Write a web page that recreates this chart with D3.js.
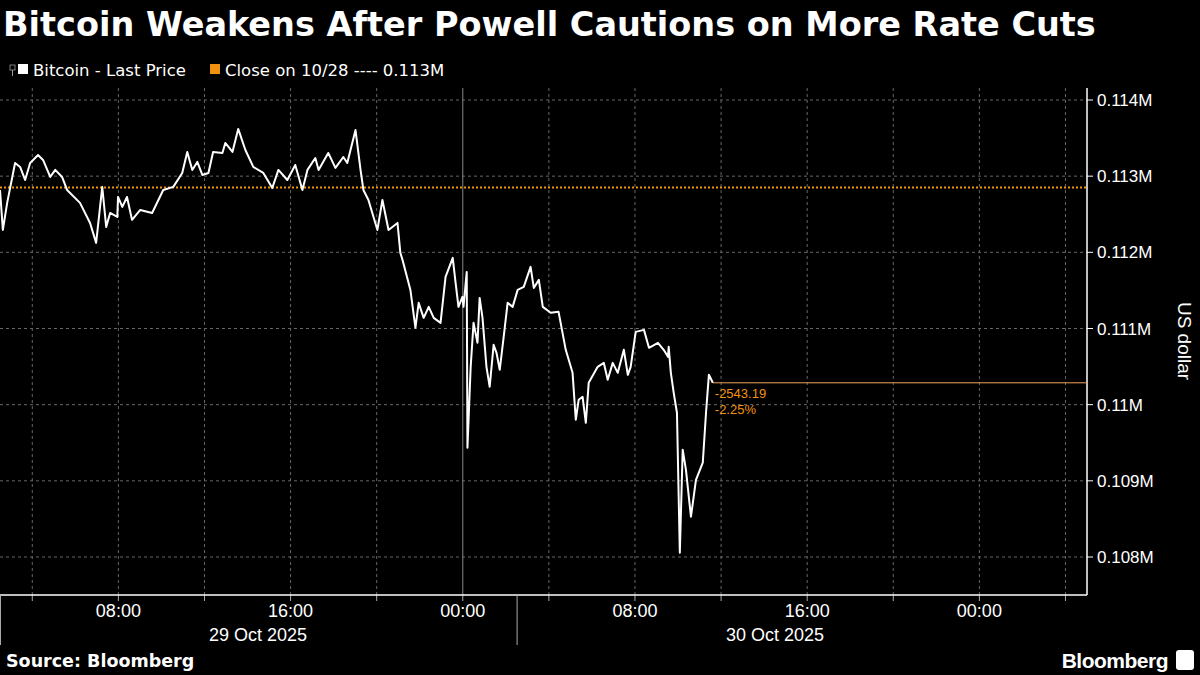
<!DOCTYPE html>
<html><head><meta charset="utf-8">
<script src="https://cdn.jsdelivr.net/npm/d3@7"></script>
<style>body{margin:0;background:#000}svg{display:block}</style>
</head><body>
<svg id="c" width="1200" height="675"></svg>
<script>
// minutes since 2025-10-29 02:30 (local chart time)
const minutes = [0,8,20,42,56,70,84,106,120,140,154,173,187,223,251,268,285,296,307,327,329,341,354,368,391,424,455,483,508,522,536,550,564,581,594,620,628,648,664,684,706,734,759,776,801,823,843,857,879,888,915,935,957,968,991,1005,1013,1027,1052,1066,1083,1108,1116,1122,1144,1158,1167,1181,1195,1209,1228,1242,1262,1270,1278,1289,1292,1301,1303,1312,1320,1331,1337,1345,1356,1365,1376,1384,1393,1404,1415,1429,1443,1460,1479,1488,1502,1513,1535,1557,1577,1596,1605,1613,1624,1633,1641,1666,1683,1694,1708,1722,1739,1750,1758,1772,1795,1809,1834,1850,1862,1864,1870,1878,1887,1895,1903,1912,1926,1940,1959,1968,1976,1987];
const prices = [112819,112294,112649,113173,113121,112950,113173,113278,113213,112990,113082,112990,112819,112649,112386,112124,112859,112334,112517,112465,112727,112596,112727,112426,112557,112517,112819,112859,113042,113318,113082,113187,113016,113042,113318,113305,113436,113318,113620,113344,113121,113042,112845,113082,112950,113147,112819,113082,113239,113082,113305,113108,113252,113173,113606,113082,112819,112688,112294,112688,112294,112386,111993,111901,111507,111009,111337,111140,111284,111140,111074,111678,111927,111599,111284,111415,111284,111743,109434,110497,111074,110812,111402,111140,110497,110235,110786,110681,110458,110891,111337,111284,111507,111547,111809,111533,111638,111284,111206,111219,110720,110418,109802,110064,110103,109762,110287,110497,110549,110326,110549,110418,110720,110392,110497,110956,110982,110746,110812,110720,110628,110759,110418,110156,109894,108057,109408,109146,108529,109014,109238,109894,110392,110287];
const closePrice = 112850;
const lastPrice = 110287;
const yTicks = [108000,109000,110000,111000,112000,113000,114000];
const yTickLabels = ["0.108M","0.109M","0.11M","0.111M","0.112M","0.113M","0.114M"];
const xTickLabels = ["08:00","16:00","00:00","08:00","16:00","00:00"];
const dateLabels = ["29 Oct 2025","30 Oct 2025"];
const changeLabels = ["-2543.19","-2.25%"];

const svg = d3.select("#c");
svg.append("rect").attr("width",1200).attr("height",675).attr("fill","#000");
const F = "'Liberation Sans', Arial, sans-serif";
const D = "'DejaVu Sans', sans-serif";
const start = new Date(2025,9,29,2,30);
const data = minutes.map((m,i)=>({t:new Date(start.getTime()+m*60000), v:prices[i]}));
const x = d3.scaleTime().domain([start, new Date(2025,9,31,5,0)]).range([0,1087]);
const y = d3.scaleLinear().domain([108000,114000]).range([557,100]);
const pTop=88, pBottom=595, pRight=1087;

const g = svg.append("g");
yTicks.forEach(v=>g.append("line").attr("x1",0).attr("x2",pRight).attr("y1",y(v)).attr("y2",y(v))
  .attr("stroke","#666").attr("stroke-dasharray","3,3"));
const ticks4 = d3.timeHour.every(4).range(new Date(2025,9,29,4), new Date(2025,9,31,5));
ticks4.forEach(t=>{
  const isMid = t.getHours()===0 && t.getDate()===30;
  g.append("line").attr("x1",x(t)).attr("x2",x(t)).attr("y1",pTop).attr("y2",pBottom)
   .attr("stroke", isMid?"#888":"#666").attr("stroke-dasharray", isMid?null:"3,3");
  g.append("line").attr("x1",x(t)).attr("x2",x(t)).attr("y1",pBottom).attr("y2",pBottom+6).attr("stroke","#aaa");
});
svg.append("line").attr("x1",0).attr("x2",pRight).attr("y1",pBottom).attr("y2",pBottom).attr("stroke","#fff").attr("stroke-width",1.5);
svg.append("line").attr("x1",pRight).attr("x2",pRight).attr("y1",pTop).attr("y2",pBottom).attr("stroke","#fff").attr("stroke-width",1.5);
yTicks.forEach((v,i)=>{
  svg.append("line").attr("x1",pRight).attr("x2",pRight+6).attr("y1",y(v)).attr("y2",y(v)).attr("stroke","#fff");
  svg.append("text").attr("x",pRight+10).attr("y",y(v)+6).attr("fill","#fff").attr("font-family",F).attr("font-size",17).text(yTickLabels[i]);
});
svg.append("text").attr("transform","translate(1178,341) rotate(90)").attr("text-anchor","middle")
  .attr("fill","#fff").attr("font-family",F).attr("font-size",19).text("US dollar");
const labTimes = [new Date(2025,9,29,8),new Date(2025,9,29,16),new Date(2025,9,30,0),new Date(2025,9,30,8),new Date(2025,9,30,16),new Date(2025,9,31,0)];
labTimes.forEach((t,i)=>svg.append("text").attr("x",x(t)).attr("y",617).attr("text-anchor","middle")
  .attr("fill","#fff").attr("font-family",F).attr("font-size",18).text(xTickLabels[i]));
const sep = [start, new Date(2025,9,30,2,30)];
sep.forEach(t=>svg.append("line").attr("x1",x(t)+0.5).attr("x2",x(t)+0.5).attr("y1",pBottom).attr("y2",645).attr("stroke","#aaa"));
[258,775].forEach((cx,i)=>svg.append("text").attr("x",cx).attr("y",641).attr("text-anchor","middle")
  .attr("fill","#fff").attr("font-family",F).attr("font-size",18).text(dateLabels[i]));

svg.append("line").attr("x1",0).attr("x2",pRight).attr("y1",y(closePrice)).attr("y2",y(closePrice))
  .attr("stroke","#f0920f").attr("stroke-width",2).attr("stroke-dasharray","2,2");
const last = data[data.length-1];
svg.append("line").attr("x1",x(last.t)).attr("x2",pRight).attr("y1",y(lastPrice)).attr("y2",y(lastPrice)).attr("stroke","#f5a05a").attr("stroke-width",1);
svg.append("path").datum(data).attr("d",d3.line().x(d=>x(d.t)).y(d=>y(d.v)))
  .attr("fill","none").attr("stroke","#fff").attr("stroke-width",2).attr("stroke-linejoin","round");
changeLabels.forEach((s,i)=>svg.append("text").attr("x",x(last.t)+2).attr("y",y(lastPrice)+15+i*16)
  .attr("fill","#f0920f").attr("font-family",F).attr("font-size",13).text(s));

svg.append("text").attr("x",3).attr("y",36).attr("fill","#fff").attr("font-family",D).attr("font-weight","bold").attr("font-size",33.5).text("Bitcoin Weakens After Powell Cautions on More Rate Cuts");
svg.append("rect").attr("x",18).attr("y",64).attr("width",10).attr("height",10).attr("fill","#fff");
svg.append("rect").attr("x",10).attr("y",65).attr("width",5).attr("height",5).attr("fill","none").attr("stroke","#999").attr("stroke-width",0.8);
svg.append("line").attr("x1",12.5).attr("x2",12.5).attr("y1",70).attr("y2",76).attr("stroke","#999");
svg.append("text").attr("x",33).attr("y",76).attr("fill","#fff").attr("font-family",D).attr("font-size",16.5).text("Bitcoin - Last Price");
svg.append("rect").attr("x",210).attr("y",64).attr("width",10).attr("height",10).attr("fill","#f0920f");
svg.append("text").attr("x",225).attr("y",76).attr("fill","#fff").attr("font-family",D).attr("font-size",16.5).text("Close on 10/28 ---- 0.113M");

svg.append("text").attr("x",6).attr("y",667).attr("fill","#fff").attr("font-family",D).attr("font-weight","bold").attr("font-size",17.5).text("Source: Bloomberg");
svg.append("text").attr("x",1168).attr("y",668).attr("text-anchor","end").attr("fill","#fff").attr("font-family",F).attr("font-weight","bold").attr("font-size",21).attr("letter-spacing",-0.5).text("Bloomberg");
svg.append("rect").attr("x",1176).attr("y",650).attr("width",18).attr("height",20).attr("rx",3).attr("fill","#fff");
</script></body></html>
